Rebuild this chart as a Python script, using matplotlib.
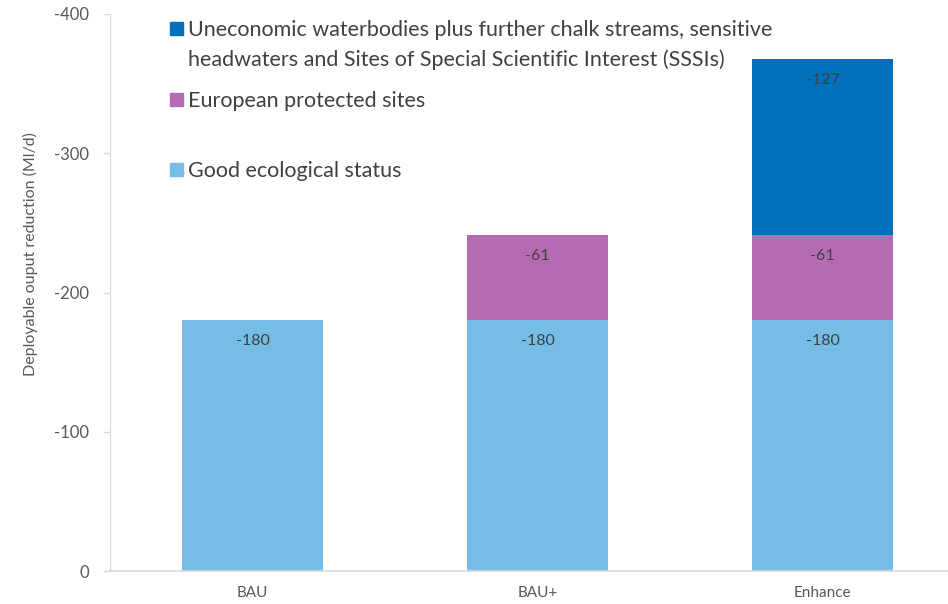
import numpy as np
import matplotlib.pyplot as plt
from matplotlib.patches import Patch

plt.rcParams['font.family'] = ['Lato', 'DejaVu Sans']
plt.rcParams['axes.unicode_minus'] = False

scenarios = ["BAU", "BAU+", "Enhance"]
good_status = [-180, -180, -180]
european_sites = [0, -61, -61]
uneconomic = [0, 0, -127]

series_names = [
    ["Good ecological status"],
    ["European protected sites"],
    ["Uneconomic waterbodies plus further chalk streams, sensitive",
     "headwaters and Sites of Special Scientific Interest (SSSIs)"],
]
colors = ["#75BDE7", "#B56BB2", "#0070BA"]
yticks = [0, -100, -200, -300, -400]

fig = plt.figure(figsize=(9.48, 6.04), dpi=100)
ax = fig.add_axes([110 / 948, 1 - 571 / 604, 1 - 110 / 948, 557 / 604])

x = np.arange(len(scenarios))
width = 0.495
bottom = np.zeros(len(scenarios))
for vals, col in zip([good_status, european_sites, uneconomic], colors):
    vals = np.array(vals, dtype=float)
    ax.bar(x, vals, width, bottom=bottom, color=col, edgecolor="none")
    for xi, v, b in zip(x, vals, bottom):
        if v != 0:
            ax.annotate(f"{v:.0f}", (xi, b + v), xytext=(0, -21), textcoords="offset pixels",
                        ha="center", va="center", fontsize=11.5, color="#404040")
    bottom += vals

ax.set_ylim(0, -400)
ax.set_xlim(-0.5, 2.44)
ax.set_yticks(yticks)
ax.set_yticklabels([str(t) for t in yticks])
ax.set_xticks(x)
ax.set_xticklabels(scenarios)

for s in ["top", "right"]:
    ax.spines[s].set_visible(False)
ax.spines["left"].set_color("#d9d9d9")
ax.spines["bottom"].set_color("#d9d9d9")
ax.spines["bottom"].set_linewidth(1.2)
ax.tick_params(axis="y", colors="#595959", labelsize=12, length=5, width=1, pad=10)
ax.tick_params(axis="y", color="#d9d9d9")
ax.tick_params(axis="x", colors="#595959", labelsize=11, length=0, pad=11)

fig.text(30 / 948, 1 - 254 / 604, "Deployable ouput reduction (Ml/d)", rotation=90,
         ha="center", va="center", fontsize=11.5, color="#595959")

# one legend per series so the vertical gaps follow the reference;
# wrapped lines get a blank handle so the square sits on the first line
legend_order = [2, 1, 0]
legend_tops = [20, 91, 161]
for idx, top in zip(legend_order, legend_tops):
    lines = series_names[idx]
    hs = [Patch(color=colors[idx])] + [Patch(alpha=0)] * (len(lines) - 1)
    leg = fig.legend(hs, lines, loc="upper left",
                     bbox_to_anchor=(170 / 948, 1 - top / 604), frameon=False,
                     fontsize=15.5, handlelength=0.6, handleheight=0.6,
                     handletextpad=0.25, labelspacing=0.45, borderaxespad=0, borderpad=0)
    for t in leg.get_texts():
        t.set_color("#404040")

fig.savefig("out.png", dpi=100)
